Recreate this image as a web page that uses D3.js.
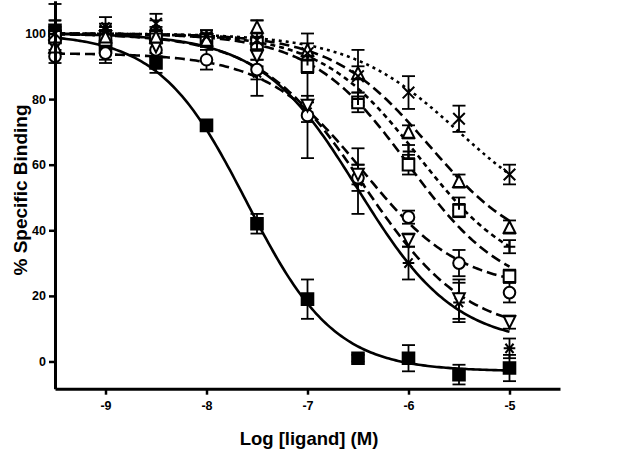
<!DOCTYPE html>
<html><head><meta charset="utf-8">
<script src="https://cdn.jsdelivr.net/npm/d3@7"></script>
<style>body{margin:0;background:#fff}svg{display:block}text{font-family:"Liberation Sans",Arial,sans-serif;font-weight:bold}</style>
</head><body><svg id="c" width="642" height="449"></svg>
<script>
const logDose = [-9.5, -9, -8.5, -8, -7.5, -7, -6.5, -6, -5.5, -5];
const seriesNames = ["filledSquare","asterisk","circle","triDown","square","plus","triUp","cross"];
const valsFilledSquare = [101, 96, 91, 72, 42, 19, 1, 1, -4, -2];
const errFilledSquare  = [3, 5, 3, 1, 3, 6, 1, 4, 3, 4];
const valsAsterisk = [99, 102, 101, 98, 88, 76, 55, 30, 18, 4];
const errAsterisk  = [2, 3, 3, 2, 7, 3, 10, 5, 6, 3];
const valsCircle = [93, 94, 95, 92, 89, 75, 56, 44, 30, 21];
const errCircle  = [2, 2, 2, 3, 3, 13, 4, 2, 4, 3];
const valsTriDown = [96, 99, 96, 98, 93, 78, 57, 37, 19, 12];
const errTriDown  = [2, 2, 3, 2, 3, 3, 3, 2, 6, 2];
const valsSquare = [99, 98, 99, 98, 97, 90, 79, 60, 46, 26];
const errSquare  = [2, 2, 2, 2, 2, 2, 3, 3, 2, 2];
const valsPlus = [104, 100, 100, 99, 97, 92, 80, 64, 48, 35];
const errPlus  = [5, 2, 2, 2, 2, 2, 2, 2, 2, 2];
const valsTriUp = [96, 99, 99, 98, 102, 95, 88, 70, 55, 41];
const errTriUp  = [2, 2, 2, 2, 2, 2, 2, 2, 2, 2];
const valsCross = [100, 101, 103, 99, 98, 94, 87, 82, 74, 57];
const errCross  = [2, 2, 3, 2, 6, 6, 8, 5, 4, 3];
// fitted sigmoid parameters: top, bottom, logIC50, hill
const fitTop    = [100, 100, 94, 100, 100, 100, 100, 100];
const fitBottom = [-3, 5, 22, 8, 20, 25, 32, 40];
const fitLogIC50 = [-7.6, -6.5, -6.45, -6.45, -6.0, -5.9, -5.8, -5.5];
const fitHill   = [1.0, 0.9, 0.9, 0.85, 0.9, 0.9, 0.9, 0.8];
const lineDash  = ["none","none","10,5","10,5","10,5","5,4","10,5","3,4"];
const yTicks = [0, 20, 40, 60, 80, 100];
const xTicks = [-9, -8, -7, -6, -5];

const vals = [valsFilledSquare, valsAsterisk, valsCircle, valsTriDown, valsSquare, valsPlus, valsTriUp, valsCross];
const errs = [errFilledSquare, errAsterisk, errCircle, errTriDown, errSquare, errPlus, errTriUp, errCross];

const svg = d3.select("#c");
const x = d3.scaleLinear().domain([-9.5, -4.5]).range([55, 560]);
const y = d3.scaleLinear().domain([-8.3, 110]).range([388.7, 0.7]);

// curves
const grid = d3.range(0, 201).map(i => -9.5 + i * 4.5 / 200);
const line = d3.line().x(d => x(d[0])).y(d => y(d[1]));
seriesNames.forEach((n, i) => {
  const pts = grid.map(t => [t, fitBottom[i] + (fitTop[i] - fitBottom[i]) / (1 + Math.pow(10, (t - fitLogIC50[i]) * fitHill[i]))]);
  svg.append("path").attr("d", line(pts)).attr("fill", "none").attr("stroke", "#000")
    .attr("stroke-width", 2.6).attr("stroke-dasharray", lineDash[i]);
});

// error bars
const cap = 6.5;
seriesNames.forEach((n, i) => {
  const g = svg.append("g").attr("stroke", "#000").attr("stroke-width", 1.8).attr("fill", "none");
  logDose.forEach((d, j) => {
    const cx = x(d), y1 = y(vals[i][j] + errs[i][j]), y2 = y(vals[i][j] - errs[i][j]);
    g.append("line").attr("x1", cx).attr("x2", cx).attr("y1", y1).attr("y2", y2);
    g.append("line").attr("x1", cx - cap).attr("x2", cx + cap).attr("y1", y1).attr("y2", y1);
    g.append("line").attr("x1", cx - cap).attr("x2", cx + cap).attr("y1", y2).attr("y2", y2);
  });
});

// markers
const r = 5.8;
const shapes = {
  filledSquare: `M${-r},${-r}H${r}V${r}H${-r}Z`,
  square: `M${-r},${-r}H${r}V${r}H${-r}Z`,
  circle: `M${r},0A${r},${r} 0 1,1 ${-r},0A${r},${r} 0 1,1 ${r},0Z`,
  triUp: `M0,${-r}L${r},${r}L${-r},${r}Z`,
  triDown: `M0,${r}L${r},${-r}L${-r},${-r}Z`,
  plus: `M${-r},0H${r}M0,${-r}V${r}`,
  cross: `M${-r},${-r}L${r},${r}M${-r},${r}L${r},${-r}`,
  asterisk: `M${-r},0H${r}M${-r*0.7},${-r*0.8}L${r*0.7},${r*0.8}M${-r*0.7},${r*0.8}L${r*0.7},${-r*0.8}`
};
seriesNames.forEach((n, i) => {
  const filled = n === "filledSquare";
  const open = ["square","circle","triUp","triDown"].includes(n);
  svg.append("g").selectAll("path").data(logDose.map((d, j) => [d, vals[i][j]])).join("path")
    .attr("transform", d => `translate(${x(d[0])},${y(d[1])})`)
    .attr("d", shapes[n])
    .attr("fill", filled ? "#000" : (open ? "#fff" : "none"))
    .attr("stroke", "#000").attr("stroke-width", 2);
});

// axes
const ax = svg.append("g").attr("transform", "translate(0,388.7)")
  .call(d3.axisBottom(x).tickValues(xTicks).tickFormat(d => String(d)).tickSize(6).tickSizeOuter(0).tickPadding(6));
const ay = svg.append("g").attr("transform", "translate(55,0)")
  .call(d3.axisLeft(y).tickValues(yTicks).tickFormat(d => String(d)).tickSize(6).tickSizeOuter(0).tickPadding(3));
[ax, ay].forEach(a => {
  a.select(".domain").attr("stroke-width", 3);
  a.selectAll(".tick line").attr("stroke-width", 2.5);
  a.selectAll("text").attr("font-size", 12.5).attr("fill", "#000")
    .attr("font-family", "'Liberation Sans', Arial, sans-serif").attr("font-weight", "bold");
});

svg.append("text").attr("x", 309).attr("y", 445).attr("text-anchor", "middle")
  .attr("font-size", 18.5).text("Log [ligand] (M)");
svg.append("text").attr("transform", "translate(27,190) rotate(-90)").attr("text-anchor", "middle")
  .attr("font-size", 19).text("% Specific Binding");
</script></body></html>
